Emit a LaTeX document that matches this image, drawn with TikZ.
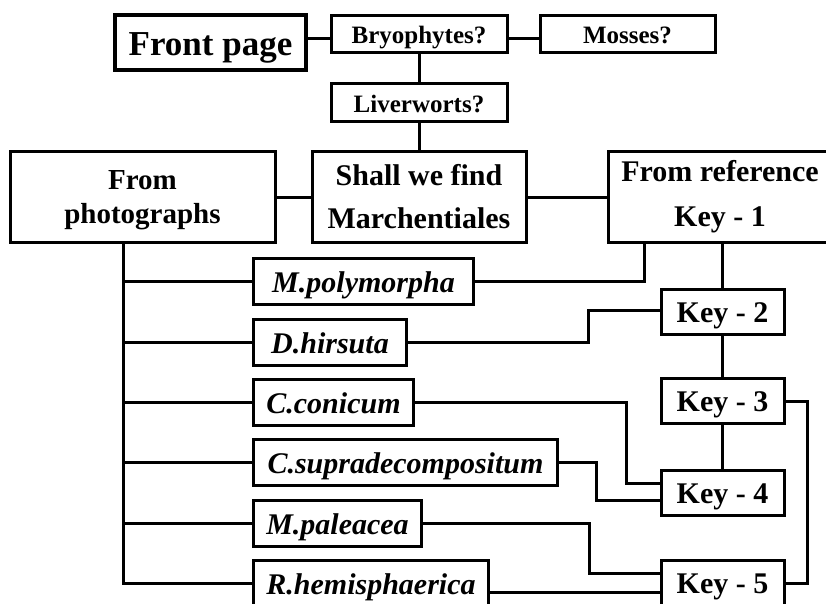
\documentclass[tikz,border=0pt]{standalone}
\usepackage{fontspec}
\setmainfont{Liberation Serif}
\usepackage{tikz}

\tikzset{
  box/.style={draw, line width=3pt, inner sep=0pt, align=center, font=\bfseries},
  small/.style={box, text height=19pt, text depth=0pt, font=\bfseries\fontsize{25}{28}\selectfont},
  big/.style={box, minimum height=90pt, font=\bfseries\fontsize{30}{43}\selectfont},
  species/.style={box, anchor=west, minimum height=46pt, text height=22pt, text depth=0pt, font=\bfseries\itshape\fontsize{30}{34}\selectfont},
  keybox/.style={box, minimum width=123pt, minimum height=45pt, text height=20pt, text depth=0pt, font=\bfseries\fontsize{30}{34}\selectfont},
  link/.style={line width=3pt}
}

\begin{document}
\begin{tikzpicture}[x=1pt, y=-1pt]
    \useasboundingbox (0, 0) rectangle (826, 604);
    \node [box, line width=4pt, minimum width=191pt, minimum height=55pt, text height=27pt, text depth=0pt, font=\bfseries\fontsize{35}{40}\selectfont] (front) at (210.5, 42.5) {Front page};
    \node [small, minimum width=176pt, minimum height=37pt] (bryo) at (419, 34.5) {Bryophytes?};
    \node [small, minimum width=175pt, minimum height=37pt] (mosses) at (627.5, 34.5) {Mosses?};
    \node [small, minimum width=176pt, minimum height=38pt] (liver) at (419, 103) {Liverworts?};
    \node [big, minimum width=214pt] (shall) at (419, 197) {Shall we find\\Marchentiales};
    \node [big, minimum width=265pt, font=\bfseries\fontsize{29}{34}\selectfont] (photo) at (142.5, 197) {From\\\raisebox{0pt}[\height][0pt]{photographs}};
    \node [big, minimum width=224pt, font=\bfseries\fontsize{30}{45}\selectfont] (ref) at (720, 197) {From reference\\Key - 1};
    \node [species, minimum width=220pt] (mpoly) at (252, 281) {M.polymorpha};
    \node [species, minimum width=153pt] (dhir) at (252, 342) {D.hirsuta};
    \node [species, minimum width=160pt] (ccon) at (252, 402) {C.conicum};
    \node [species, minimum width=304pt] (csup) at (252, 462) {C.supradecompositum};
    \node [species, minimum width=168pt] (mpal) at (252, 523) {M.paleacea};
    \node [species, minimum width=235pt] (rhem) at (252, 583) {R.hemisphaerica};
    \node [keybox] (k2) at (722.5, 312) {Key - 2};
    \node [keybox] (k3) at (722.5, 401) {Key - 3};
    \node [keybox] (k4) at (722.5, 493) {Key - 4};
    \node [keybox] (k5) at (722.5, 583) {Key - 5};
    \coordinate (trunk) at (123, 583);
    \draw [link] ([yshift=-4.5pt]bryo.west) -- ([yshift=-4.5pt]bryo.west -| front.east);
    \draw [link] ([yshift=-4.5pt]bryo.east) -- ([yshift=-4.5pt]bryo.east -| mosses.west);
    \draw [link] (bryo) -- (liver);
    \draw [link] (liver) -- (shall);
    \draw [link] (photo) -- (shall);
    \draw [link] (shall) -- (ref);
    \draw [link] (photo.south -| trunk) -- (trunk) -- (rhem.west);
    \foreach \n in {mpoly, dhir, ccon, csup, mpal}
        \draw [link] (trunk |- \n.west) -- (\n.west);
    \draw [link] (mpoly.east) -| ([xshift=38pt]ref.south west);
    \draw [link] (k2.north |- ref.south) -- (k2.north);
    \draw [link] (k2) -- (k3);
    \draw [link] (k3) -- (k4);
    \draw [link] (dhir.east) -- ++(180, 0) |- ([yshift=2pt]k2.west);
    \draw [link] (ccon.east) -- ++(211, 0) |- ([yshift=10pt]k4.west);
    \draw [link] (csup.east) -- ++(37, 0) |- ([yshift=-7pt]k4.west);
    \draw [link] (mpal.east) -- ++(166, 0) |- ([yshift=10pt]k5.west);
    \draw [link] ([yshift=-9pt]rhem.east) -- ([yshift=-9pt]k5.west);
    \draw [link] (k3.east) -- ++(22, 0) |- (k5.east);
\end{tikzpicture}
\end{document}
